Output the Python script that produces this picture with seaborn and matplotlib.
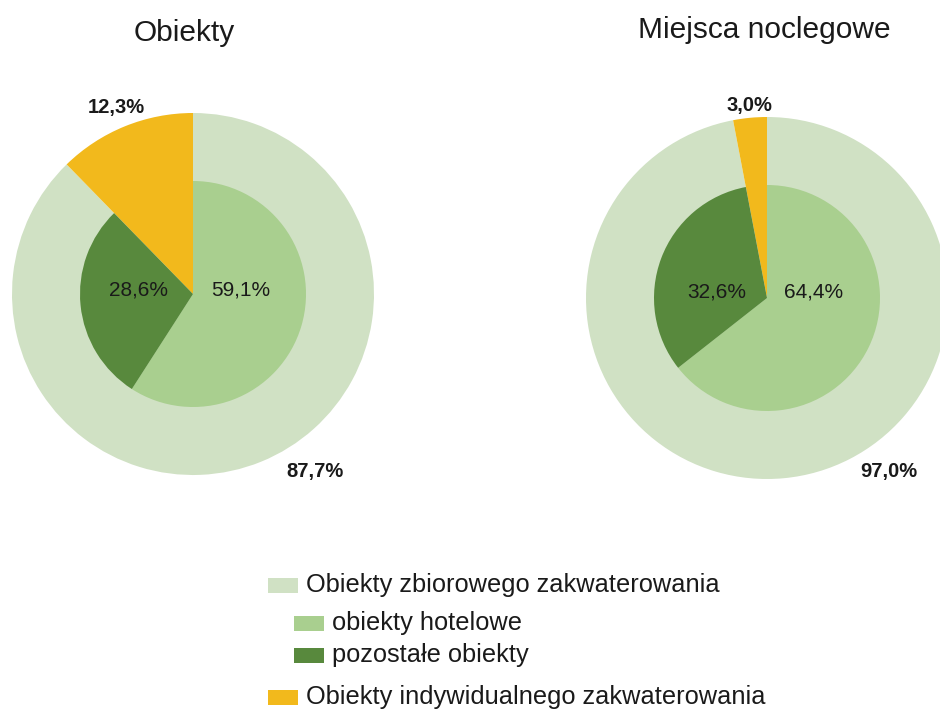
import matplotlib.pyplot as plt
import matplotlib.patches as mpatches
import seaborn as sns

# data
titles = ['Obiekty', 'Miejsca noclegowe']
outer_labels = ['Obiekty zbiorowego zakwaterowania', 'Obiekty indywidualnego zakwaterowania']
inner_labels = ['obiekty hotelowe', 'pozostałe obiekty']
outer_vals = [[87.7, 12.3], [97.0, 3.0]]
inner_vals = [[59.1, 28.6], [64.4, 32.6]]

c_zbior = '#d0e1c4'
c_hotel = '#a9cf8f'
c_pozost = '#58893d'
c_indyw = '#f2b91c'

sns.set_theme(style='white')
plt.rcParams['font.family'] = ['Liberation Sans', 'DejaVu Sans']

W, H = 940, 713
fig = plt.figure(figsize=(9.4, 7.13), dpi=100)
ax = fig.add_axes([0, 0, 1, 1])

# pixel layout (y measured from bottom)
centers = [(193, H - 294), (767, H - 298)]
r_out, r_in = 181, 113
title_pos = [(184, H - 41), (764, H - 38)]
# label offsets (dx, dy) relative to centre, in px
outer_lab_pos = [[(122, -178), (-77, 187)], [(122, -174), (-18, 193)]]
inner_lab_pos = [[(48, 4), (-54, 4)], [(47, 6), (-50, 6)]]

txt = '#1a1a1a'


def pct(v):
    return f'{v:.1f}%'.replace('.', ',')


for i in range(2):
    cx, cy = centers[i]
    ov = outer_vals[i]
    iv = inner_vals[i]
    ax.pie(ov, colors=[c_zbior, c_indyw], startangle=90, counterclock=False,
           radius=r_out, center=(cx, cy), frame=True,
           wedgeprops=dict(linewidth=0, edgecolor='none'))
    rest = 100 - sum(iv)
    w, _ = ax.pie(iv + [rest], colors=[c_hotel, c_pozost, 'none'], startangle=90,
                  counterclock=False, radius=r_in, center=(cx, cy), frame=True,
                  wedgeprops=dict(linewidth=0, edgecolor='none'))
    w[2].set_visible(False)

    # inner value labels
    for v, (dx, dy) in zip(iv, inner_lab_pos[i]):
        ax.text(cx + dx, cy + dy, pct(v), ha='center', va='center',
                fontsize=15, color=txt)
    # outer value labels
    for v, (dx, dy) in zip(ov, outer_lab_pos[i]):
        ax.text(cx + dx, cy + dy, pct(v), ha='center', va='center',
                fontsize=14.5, fontweight='bold', color=txt)

    ax.text(title_pos[i][0], title_pos[i][1], titles[i], ha='center', va='baseline',
            fontsize=21.5, color=txt)

# legend drawn by hand (indented sub-items)
leg_rows = [
    (268, H - 585, outer_labels[0], c_zbior),
    (294, H - 623, inner_labels[0], c_hotel),
    (294, H - 655, inner_labels[1], c_pozost),
    (268, H - 697, outer_labels[1], c_indyw),
]
for x, y, lab, col in leg_rows:
    ax.add_patch(mpatches.Rectangle((x, y - 7.5), 30, 15, facecolor=col, edgecolor='none'))
    ax.text(x + 38, y, lab, ha='left', va='center', fontsize=18.3, color=txt)

ax.set_xlim(0, W)
ax.set_ylim(0, H)
ax.set_aspect('equal')
ax.axis('off')

fig.savefig('out.png', dpi=100)
